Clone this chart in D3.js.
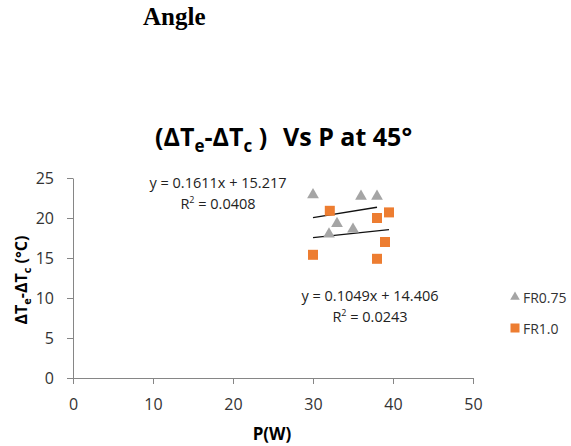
<!DOCTYPE html>
<html>
<head>
<meta charset="utf-8">
<script src="https://cdn.jsdelivr.net/npm/d3@7"></script>
<style>
  body { margin: 0; background: #fff; }
  text { font-family: "Open Sans", "Liberation Sans", sans-serif; }
</style>
</head>
<body>
<script>
'use strict';

// FR0.75 series (gray triangles)
let fr075X = [30.0, 36.0, 38.0, 33.0, 32.0, 35.0];
let fr075Y = [22.9, 22.7, 22.7, 19.3, 18.0, 18.6];
// FR1.0 series (orange squares)
let fr10X = [32.1, 38.0, 39.5, 39.0, 30.0, 38.0];
let fr10Y = [20.9, 20.0, 20.7, 17.0, 15.4, 14.9];

// trendline fits as printed on the chart
let fitSlope = [0.1611, 0.1049];
let fitIntercept = [15.217, 14.406];
let fitLabels = ['y = 0.1611x + 15.217', 'y = 0.1049x + 14.406'];
let r2Labels = ['0.0408', '0.0243'];

let xTicks = [0, 10, 20, 30, 40, 50];
let yTicks = [0, 5, 10, 15, 20, 25];
let seriesNames = ['FR0.75', 'FR1.0'];
let seriesColors = ['#a5a5a5', '#ed7d31'];

let svg = d3.select('body')
    .append('svg')
    .attr('width', 571)
    .attr('height', 446);

let xScale = d3.scaleLinear().domain([0, 50]).range([73, 473]);
let yScale = d3.scaleLinear().domain([0, 25]).range([378, 178]);

// heading above chart
svg.append('text')
    .attr('x', 143)
    .attr('y', 25)
    .style('font-family', '"Liberation Serif", serif')
    .style('font-weight', 'bold')
    .style('font-size', '25px')
    .text('Angle');

// title
let title = svg.append('text')
    .attr('x', 155)
    .attr('y', 146)
    .style('font-weight', 'bold')
    .style('font-size', '25px')
    .attr('fill', '#000');
title.append('tspan').text('(ΔT');
title.append('tspan').attr('dy', 6).style('font-size', '17px').text('e');
title.append('tspan').attr('dy', -6).text('-ΔT');
title.append('tspan').attr('dy', 6).style('font-size', '17px').text('c');
title.append('tspan').attr('dy', -6).text(' )');
title.append('tspan').attr('x', 283).text('Vs P at 45°');

// axes
let xAxis = d3.axisBottom(xScale).tickValues(xTicks).tickSize(6).tickSizeOuter(0);
let gx = svg.append('g')
    .attr('transform', 'translate(0,' + yScale(0) + ')')
    .call(xAxis);

let yAxis = d3.axisLeft(yScale).tickValues(yTicks).tickSize(6).tickSizeOuter(0);
let gy = svg.append('g')
    .attr('transform', 'translate(' + xScale(0) + ',0)')
    .call(yAxis);

[gx, gy].forEach(function(g) {
    g.select('.domain').attr('stroke', '#868686');
    g.selectAll('.tick line').attr('stroke', '#868686');
    g.selectAll('.tick text')
        .attr('fill', '#333')
        .style('font-size', '16px')
        .style('font-family', '"Open Sans", sans-serif');
});
gx.selectAll('.tick text').attr('y', 8).attr('dy', '1.5em');
gy.selectAll('.tick text').attr('x', -19).attr('dy', '0.36em');

// axis titles
svg.append('text')
    .attr('x', 272)
    .attr('y', 440)
    .attr('text-anchor', 'middle')
    .style('font-weight', 'bold')
    .style('font-size', '17px')
    .text('P(W)');

let yt = svg.append('text')
    .attr('transform', 'translate(27,280) rotate(-90)')
    .attr('text-anchor', 'middle')
    .style('font-weight', 'bold')
    .style('font-size', '16px');
yt.append('tspan').text('ΔT');
yt.append('tspan').attr('dy', 4).style('font-size', '11px').text('e');
yt.append('tspan').attr('dy', -4).text('-ΔT');
yt.append('tspan').attr('dy', 4).style('font-size', '11px').text('c');
yt.append('tspan').attr('dy', -4).text(' (°C)');

// trendlines over each series' x range
let xs = [fr075X, fr10X];
fitSlope.forEach(function(m, i) {
    let lo = d3.min(xs[i]);
    let hi = d3.max(xs[i]);
    svg.append('line')
        .attr('x1', xScale(lo))
        .attr('x2', xScale(hi))
        .attr('y1', yScale(m * lo + fitIntercept[i]))
        .attr('y2', yScale(m * hi + fitIntercept[i]))
        .attr('stroke', '#111')
        .attr('stroke-width', 1.4);
});

// markers
let tri = d3.symbol().type(d3.symbolTriangle).size(60);
svg.selectAll('path.tri')
    .data(d3.zip(fr075X, fr075Y))
    .enter()
    .append('path')
    .attr('class', 'tri')
    .attr('d', tri)
    .attr('transform', (d) => 'translate(' + xScale(d[0]) + ',' + yScale(d[1]) + ')')
    .attr('fill', seriesColors[0]);

svg.selectAll('rect.sq')
    .data(d3.zip(fr10X, fr10Y))
    .enter()
    .append('rect')
    .attr('class', 'sq')
    .attr('x', (d) => xScale(d[0]) - 5)
    .attr('y', (d) => yScale(d[1]) - 5)
    .attr('width', 10)
    .attr('height', 10)
    .attr('fill', seriesColors[1]);

// trendline equations
let eqPos = [{x: 218, y: 188}, {x: 370, y: 301}];
eqPos.forEach(function(p, i) {
    svg.append('text')
        .attr('x', p.x)
        .attr('y', p.y)
        .attr('text-anchor', 'middle')
        .attr('fill', '#222')
        .style('font-size', '14.5px')
        .text(fitLabels[i]);
    let r = svg.append('text')
        .attr('x', p.x)
        .attr('y', p.y + 21)
        .attr('text-anchor', 'middle')
        .attr('fill', '#222')
        .style('font-size', '14.5px');
    r.append('tspan').text('R');
    r.append('tspan').attr('dy', -6).style('font-size', '9px').text('2');
    r.append('tspan').attr('dy', 6).text(' = ' + r2Labels[i]);
});

// legend
let legend = svg.append('g').attr('transform', 'translate(515,297)');
legend.append('path')
    .attr('d', d3.symbol().type(d3.symbolTriangle).size(40))
    .attr('fill', seriesColors[0]);
legend.append('rect')
    .attr('x', -4.5).attr('y', 26.5)
    .attr('width', 9).attr('height', 9)
    .attr('fill', seriesColors[1]);
seriesNames.forEach(function(name, i) {
    legend.append('text')
        .attr('x', 8)
        .attr('y', 6 + i * 31)
        .attr('fill', '#333')
        .style('font-size', '14px')
        .text(name);
});
</script>
</body>
</html>
